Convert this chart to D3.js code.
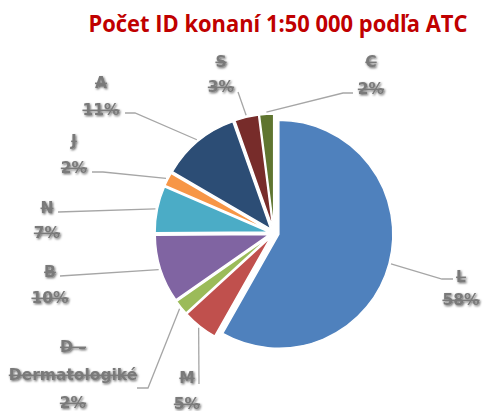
<!DOCTYPE html>
<html><head><meta charset="utf-8">
<script src="https://cdn.jsdelivr.net/npm/d3@7"></script>
<style>
html,body{margin:0;padding:0;background:#fff;}
svg{display:block;}
.lbl{font-family:"DejaVu Sans",sans-serif;font-weight:bold;font-size:15.5px;fill:#7a7a7a;text-decoration:line-through;}
</style></head>
<body>
<script>
// ---- data ----
const title = "Počet ID konaní 1:50 000 podľa ATC";
const categories = ["L","M","D – Dermatologiké","B","N","J","A","S","C"];
const values = [58.2, 5.0, 2.1, 9.6, 6.6, 1.9, 11.2, 3.4, 2.0];
const colors = ["#4F81BD","#C0504D","#9BBB59","#8064A2","#4BACC6","#F79646","#2C4D75","#772C2A","#5F7530"];
// label layout: centre x, first baseline, line step, leader attach point, elbow x
const labelLayout = [
  {x:461, y:282, step:23, ax:453, ay:279, ex:442},
  {x:187, y:383, step:26, ax:199, ay:384, ex:null},
  {x:73,  y:352, step:28, ax:137, ay:388, ex:148},
  {x:50,  y:277, step:26, ax:60,  ay:276, ex:null},
  {x:47,  y:213, step:25, ax:58,  ay:212, ex:null},
  {x:74,  y:146, step:27, ax:92,  ay:172, ex:103},
  {x:101, y:88,  step:27, ax:125, ay:113, ex:135},
  {x:221, y:67,  step:25, ax:238, ay:92,  ex:null},
  {x:371, y:67,  step:27, ax:353, ay:93,  ex:343}
];

const W = 485, H = 411;
const cx = 274, cy = 233, R = 114, explode = 5;

const svg = d3.select("body").append("svg").attr("width", W).attr("height", H);
const defs = svg.append("defs");
defs.append("filter").attr("id","sh").attr("x","-20%").attr("y","-40%").attr("width","140%").attr("height","180%")
  .append("feDropShadow").attr("dx",1).attr("dy",1.2).attr("stdDeviation",0.9)
  .attr("flood-color","#000").attr("flood-opacity",0.6);

svg.append("text").attr("x", 278).attr("y", 32).attr("text-anchor","middle")
  .attr("font-family","'Open Sans','Liberation Sans',sans-serif").attr("font-weight","bold")
  .attr("font-size", 23).attr("fill","#C00000")
  .attr("textLength", 379).attr("lengthAdjust","spacingAndGlyphs")
  .text(title);

const total = d3.sum(values);
const data = categories.map((c,i)=>({name:c, value:values[i], color:colors[i], lay:labelLayout[i]}));
const pie = d3.pie().sort(null).value(d=>d.value).startAngle(0).endAngle(2*Math.PI);
const arcs = pie(data);
const arc = d3.arc().innerRadius(0).outerRadius(R);
const edgeArc = d3.arc().innerRadius(R + explode + 2).outerRadius(R + explode + 2);

const g = svg.append("g").attr("transform", `translate(${cx},${cy})`);

g.selectAll("path.slice").data(arcs).join("path").attr("class","slice")
  .attr("d", arc)
  .attr("fill", d=>d.data.color)
  .attr("stroke","#fff").attr("stroke-width",1.5)
  .attr("transform", d=>{
    const a = (d.startAngle + d.endAngle)/2;
    return `translate(${explode*Math.sin(a)},${-explode*Math.cos(a)})`;
  });

// leader lines
svg.selectAll("polyline.lead").data(arcs).join("polyline").attr("class","lead")
  .attr("fill","none").attr("stroke","#A6A6A6").attr("stroke-width",1.3)
  .attr("points", d=>{
    const p = edgeArc.centroid(d);
    const L = d.data.lay;
    const pts = [[cx+p[0], cy+p[1]]];
    if (L.ex !== null) pts.push([L.ex, L.ay]);
    pts.push([L.ax, L.ay]);
    return pts.map(q=>q.join(",")).join(" ");
  });

// labels
const fmt = v => Math.round(v/total*100) + "%";
arcs.forEach(d=>{
  const L = d.data.lay;
  const name = d.data.name;
  let lines;
  if (name.length > 10) {
    const k = name.lastIndexOf(" ");
    lines = [name.slice(0,k), name.slice(k+1)];
  } else lines = [name];
  lines.push(fmt(d.data.value));
  const t = svg.append("text").attr("class","lbl").attr("text-anchor","middle").attr("filter","url(#sh)");
  lines.forEach((s,i)=>{
    t.append("tspan").attr("x", L.x).attr("y", L.y + i*L.step).text(s);
  });
});
</script>
</body></html>
